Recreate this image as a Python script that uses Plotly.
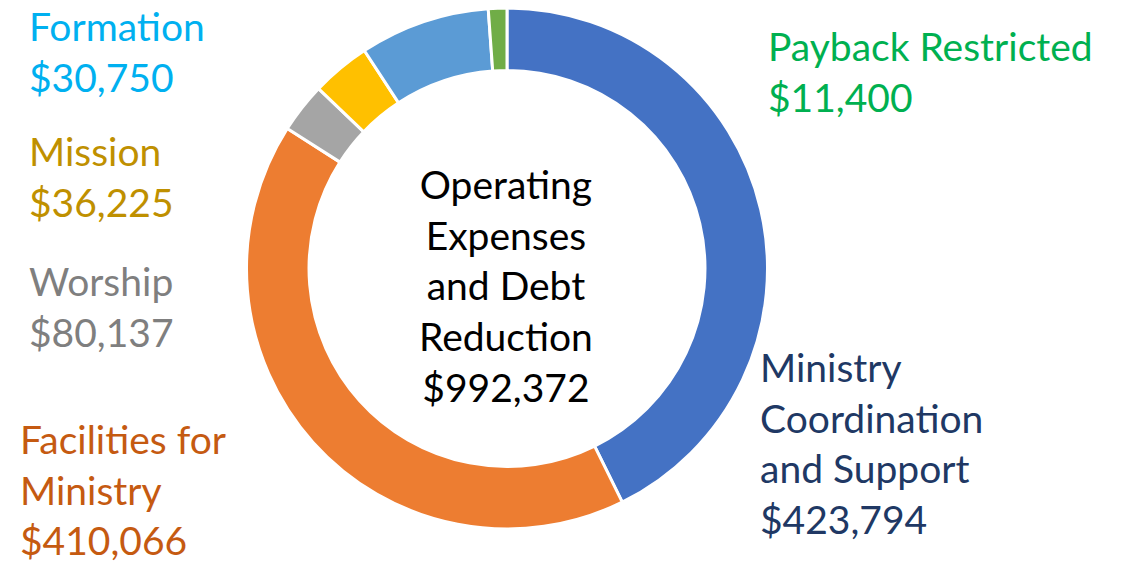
import plotly.graph_objects as go

# ---- data ----
# slices in drawing order (clockwise from 12 o'clock)
slice_names = ["Ministry Coordination and Support", "Facilities for Ministry",
               "Worship", "Mission", "Formation", "Payback Restricted"]
# slice sizes as drawn in the picture (the grey and light-blue wedges are
# sized 30,750 and 80,137 respectively in the source)
slice_values = [423794, 410066, 30750, 36225, 80137, 11400]
slice_colors = ["#4472C4", "#ED7D31", "#A5A5A5", "#FFC000", "#5B9BD5", "#70AD47"]

# text labels placed around the ring
label_texts = ["Formation<br>$30,750", "Mission<br>$36,225", "Worship<br>$80,137",
               "Facilities for<br>Ministry<br>$410,066",
               "Payback Restricted<br>$11,400",
               "Ministry<br>Coordination<br>and Support<br>$423,794"]
label_colors = ["#00B0F0", "#BF9000", "#7F7F7F", "#C55A11", "#00B050", "#203864"]
# target left edge / first baseline of each label in page pixels
label_left_px = [31, 31, 31, 22, 770, 762]
label_base_px = [42, 167, 297, 455, 62, 383]

center_text = "Operating<br>Expenses<br>and Debt<br>Reduction<br>$992,372"

PAGE_OFF = 8          # default body margin of the html page
W, H = 1125 - PAGE_OFF, 563 - PAGE_OFF
FONT = "Lato"
FS = 39
BASE_OFF = 41         # first-baseline distance from annotation box top
LEFT_PAD = 4

# ring geometry (page pixels)
cx, cy, r = 507 - PAGE_OFF, 268.5 - PAGE_OFF, 260.5

fig = go.Figure(go.Pie(
    labels=slice_names,
    values=slice_values,
    sort=False,
    direction="clockwise",
    rotation=0,
    hole=0.76,
    textinfo="none",
    hoverinfo="label+value",
    marker=dict(colors=slice_colors, line=dict(color="white", width=3)),
    domain=dict(x=[(cx - r) / W, (cx + r) / W],
                y=[max(0, (H - cy - r) / H), min(1, (H - cy + r) / H)]),
    showlegend=False,
))

annotations = []
for t, c, x, yb in zip(label_texts, label_colors, label_left_px, label_base_px):
    xf = x - PAGE_OFF - LEFT_PAD
    yt = yb - PAGE_OFF - BASE_OFF
    annotations.append(dict(
        text=t, x=xf / W, y=1 - yt / H, xref="paper", yref="paper",
        xanchor="left", yanchor="top", align="left", showarrow=False,
        font=dict(family=FONT, size=FS, color=c),
    ))
annotations.append(dict(
    text=center_text, x=(506 - PAGE_OFF) / W, y=1 - (200 - PAGE_OFF - BASE_OFF) / H,
    xref="paper", yref="paper",
    xanchor="center", yanchor="top", align="center", showarrow=False,
    font=dict(family=FONT, size=FS, color="#000000"),
))

fig.update_layout(
    width=W, height=H,
    margin=dict(l=0, r=0, t=0, b=0),
    paper_bgcolor="white", plot_bgcolor="white",
    annotations=annotations,
)

fig.write_html("out.html")
